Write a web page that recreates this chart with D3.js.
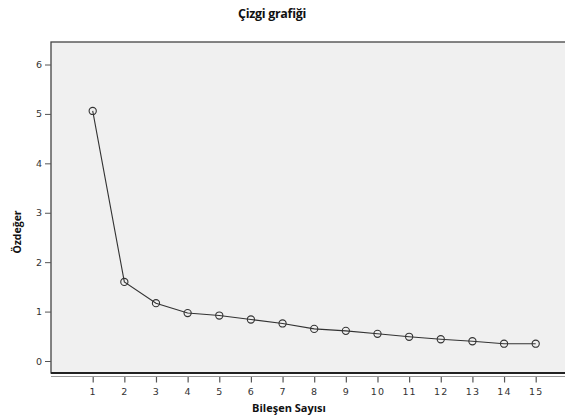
<!DOCTYPE html>
<html>
<head>
<meta charset="utf-8">
<script src="https://cdn.jsdelivr.net/npm/d3@7"></script>
<style>
  body { margin:0; background:#fff; }
  svg { display:block; }
  .tick text { font-family: "DejaVu Sans", sans-serif; font-size: 9.5px; fill:#333; letter-spacing: 1.2px; }
</style>
</head>
<body>
<svg id="chart" width="565" height="417"></svg>
<script>
(function(){

const WIDTH = 565, HEIGHT = 417;

// scree plot values
const components = [1,2,3,4,5,6,7,8,9,10,11,12,13,14,15];
const eigenvalues = [5.06,1.60,1.17,0.97,0.92,0.84,0.76,0.65,0.61,0.55,0.49,0.44,0.40,0.35,0.35];
const yTicks = [0,1,2,3,4,5,6];

const titleText = 'Çizgi grafiği';
const xTitle = 'Bileşen Sayısı';
const yTitle = 'Özdeğer';

const plot = {left:51, top:42, right:600, bottom:373};

const x = d3.scaleLinear().domain([1,15]).range([92.7,535.7]);
const y = d3.scaleLinear().domain([0,6]).range([361,64.5]);

const svg = d3.select('#chart');

// plot background
svg.append('rect')
  .attr('x', plot.left).attr('y', plot.top)
  .attr('width', plot.right-plot.left).attr('height', plot.bottom-plot.top)
  .attr('fill','#f0f0f0')
  .attr('stroke','#444').attr('stroke-width',1.3);
svg.append('line')
  .attr('x1', plot.left).attr('x2', WIDTH)
  .attr('y1', plot.bottom).attr('y2', plot.bottom)
  .attr('stroke','#222').attr('stroke-width',1.8);

// y axis
const yAxis = svg.append('g')
  .attr('transform',`translate(${plot.left},0)`)
  .call(d3.axisLeft(y).tickValues(yTicks).tickSize(6).tickPadding(3).tickFormat(d3.format('d')));
yAxis.select('.domain').remove();
yAxis.selectAll('.tick line').attr('stroke','#555');
yAxis.selectAll('.tick text').style('letter-spacing','0px');

// x axis (line sits a bit below the plot frame)
const xAxis = svg.append('g')
  .attr('transform',`translate(0,376.5)`)
  .call(d3.axisBottom(x).tickValues(components).tickSize(6).tickPadding(6).tickFormat(d3.format('d')));
xAxis.select('.domain').remove();
xAxis.selectAll('.tick line').attr('stroke','#555').attr('stroke-width',1.2);
svg.append('line')
  .attr('x1', plot.left).attr('x2', WIDTH)
  .attr('y1', 376.5).attr('y2', 376.5)
  .attr('stroke','#999').attr('stroke-width',1);

// line + points
const line = d3.line()
  .x((d,i) => x(components[i]))
  .y(d => y(d));

svg.append('path')
  .datum(eigenvalues)
  .attr('d', line)
  .attr('fill','none')
  .attr('stroke','#333')
  .attr('stroke-width',1.1);

svg.selectAll('circle.pt')
  .data(eigenvalues)
  .join('circle')
  .attr('class','pt')
  .attr('cx', (d,i) => x(components[i]))
  .attr('cy', d => y(d))
  .attr('r', 3.6)
  .attr('fill','none')
  .attr('stroke','#333')
  .attr('stroke-width',1.1);

// titles
svg.append('text')
  .attr('x', 272).attr('y', 18)
  .attr('text-anchor','middle')
  .style('font-family','"Open Sans", sans-serif')
  .style('font-weight','bold')
  .style('font-size','12.5px')
  .style('letter-spacing','-0.3px')
  .attr('fill','#111')
  .text(titleText);

svg.append('text')
  .attr('x', 289).attr('y', 412)
  .attr('text-anchor','middle')
  .style('font-family','"Open Sans", sans-serif')
  .style('font-weight','bold')
  .style('font-size','11px')
  .attr('fill','#111')
  .text(xTitle);

svg.append('text')
  .attr('transform','translate(21,232) rotate(-90)')
  .attr('text-anchor','middle')
  .style('font-family','"Open Sans", sans-serif')
  .style('font-weight','bold')
  .style('font-size','10.5px')
  .attr('fill','#111')
  .text(yTitle);

})();
</script>
</body>
</html>
